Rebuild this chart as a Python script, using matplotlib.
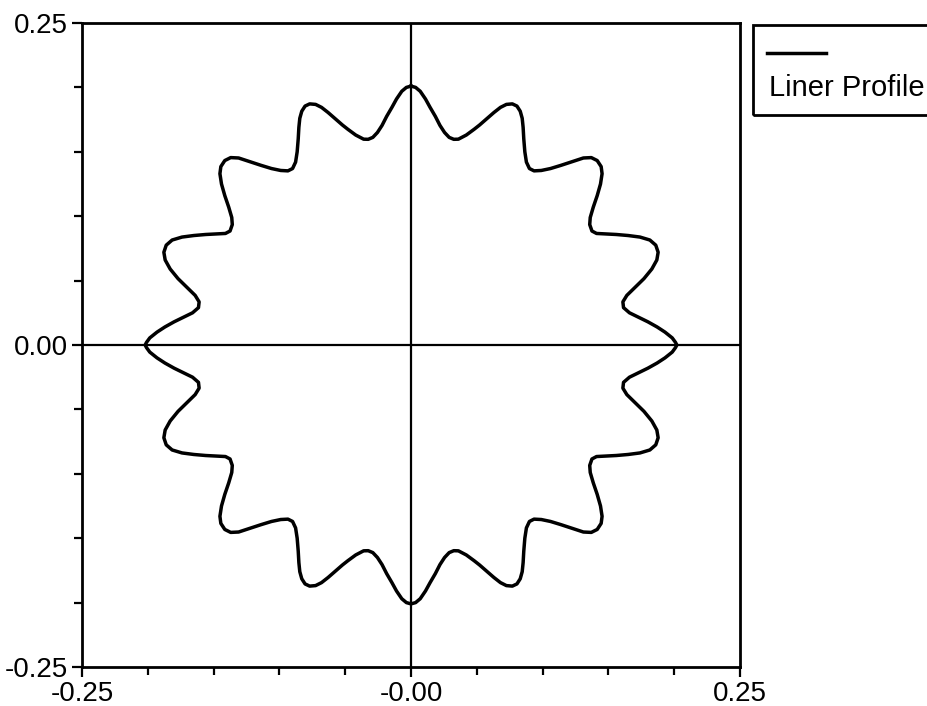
import numpy as np
import matplotlib
matplotlib.use("Agg")
import matplotlib.pyplot as plt
from matplotlib.patches import Rectangle
from matplotlib.lines import Line2D

plt.rcParams['font.family'] = ['Liberation Sans', 'DejaVu Sans']

# liner profile, first quadrant, from the top (x=0) round to the right (y=0)
quad_x = [0.0000, 0.0035, 0.0070, 0.0110, 0.0145, 0.0185, 0.0220, 0.0255, 0.0290, 0.0325,
          0.0360, 0.0420, 0.0480, 0.0521, 0.0580, 0.0630, 0.0680, 0.0725, 0.0770, 0.0805,
          0.0830, 0.0845, 0.0852, 0.0857, 0.0865, 0.0877, 0.0900, 0.0935, 0.0990, 0.1060,
          0.1140, 0.1230, 0.1310, 0.1370, 0.1415, 0.1445, 0.1452, 0.1440, 0.1415, 0.1385,
          0.1362, 0.1358, 0.1375, 0.1410, 0.1480, 0.1560, 0.1650, 0.1740, 0.1815, 0.1860,
          0.1878, 0.1868, 0.1830, 0.1770, 0.1700, 0.1640, 0.1610, 0.1615, 0.1660, 0.1730,
          0.1800, 0.1870, 0.1930, 0.1985, 0.2010, 0.2020]
quad_y = [0.2010, 0.2000, 0.1970, 0.1910, 0.1845, 0.1775, 0.1705, 0.1650, 0.1612, 0.1597,
          0.1598, 0.1630, 0.1675, 0.1708, 0.1760, 0.1805, 0.1845, 0.1868, 0.1872, 0.1855,
          0.1815, 0.1760, 0.1690, 0.1600, 0.1500, 0.1420, 0.1370, 0.1352, 0.1355, 0.1370,
          0.1395, 0.1425, 0.1452, 0.1455, 0.1432, 0.1385, 0.1330, 0.1250, 0.1160, 0.1070,
          0.0990, 0.0935, 0.0885, 0.0866, 0.0862, 0.0858, 0.0850, 0.0838, 0.0815, 0.0775,
          0.0720, 0.0660, 0.0590, 0.0515, 0.0445, 0.0385, 0.0335, 0.0290, 0.0250, 0.0215,
          0.0180, 0.0140, 0.0100, 0.0055, 0.0020, 0.0000]

x_major = [-0.25, 0.0, 0.25]
x_major_labels = ['-0.25', '-0.00', '0.25']
y_major = [-0.25, 0.0, 0.25]
y_major_labels = ['-0.25', '0.00', '0.25']
minor = [-0.20, -0.15, -0.10, -0.05, 0.05, 0.10, 0.15, 0.20]

# profile is mirrored about both axes
qx = np.array(quad_x)
qy = np.array(quad_y)
px = np.concatenate([qx, qx[::-1], -qx, -qx[::-1]])
py = np.concatenate([qy, -qy[::-1], -qy, qy[::-1]])

fig = plt.figure(figsize=(9.27, 7.06), dpi=100)
ax = fig.add_axes([82/927, 39/706, 658/927, 644/706])

ax.axhline(0, color='k', lw=1.6, zorder=1)
ax.axvline(0, color='k', lw=1.6, zorder=1)
ax.plot(px, py, color='k', lw=2.5, solid_joinstyle='round', zorder=2)

ax.set_xlim(-0.25, 0.25)
ax.set_ylim(-0.25, 0.25)
ax.set_xticks(x_major)
ax.set_xticklabels(x_major_labels)
ax.set_yticks(y_major)
ax.set_yticklabels(y_major_labels)
ax.set_xticks(minor, minor=True)
ax.set_yticks(minor, minor=True)
ax.tick_params(which='both', direction='out', length=6, width=1.6, labelsize=20, pad=3)
ax.tick_params(which='major', length=7)
for s in ax.spines.values():
    s.set_linewidth(2.0)

# legend box sits outside the plot, handle above label
fig.add_artist(Rectangle((753/927, 1 - 115/706), 0.25, 90/706, transform=fig.transFigure,
                         fill=False, edgecolor='k', lw=2.0, clip_on=False))
fig.add_artist(Line2D([767/927, 826/927], [1 - 53/706, 1 - 53/706], transform=fig.transFigure,
                      color='k', lw=2.5))
fig.text(769/927, 1 - 88/706, 'Liner Profile', fontsize=21, ha='left', va='center')

fig.savefig('out.png', dpi=100)
